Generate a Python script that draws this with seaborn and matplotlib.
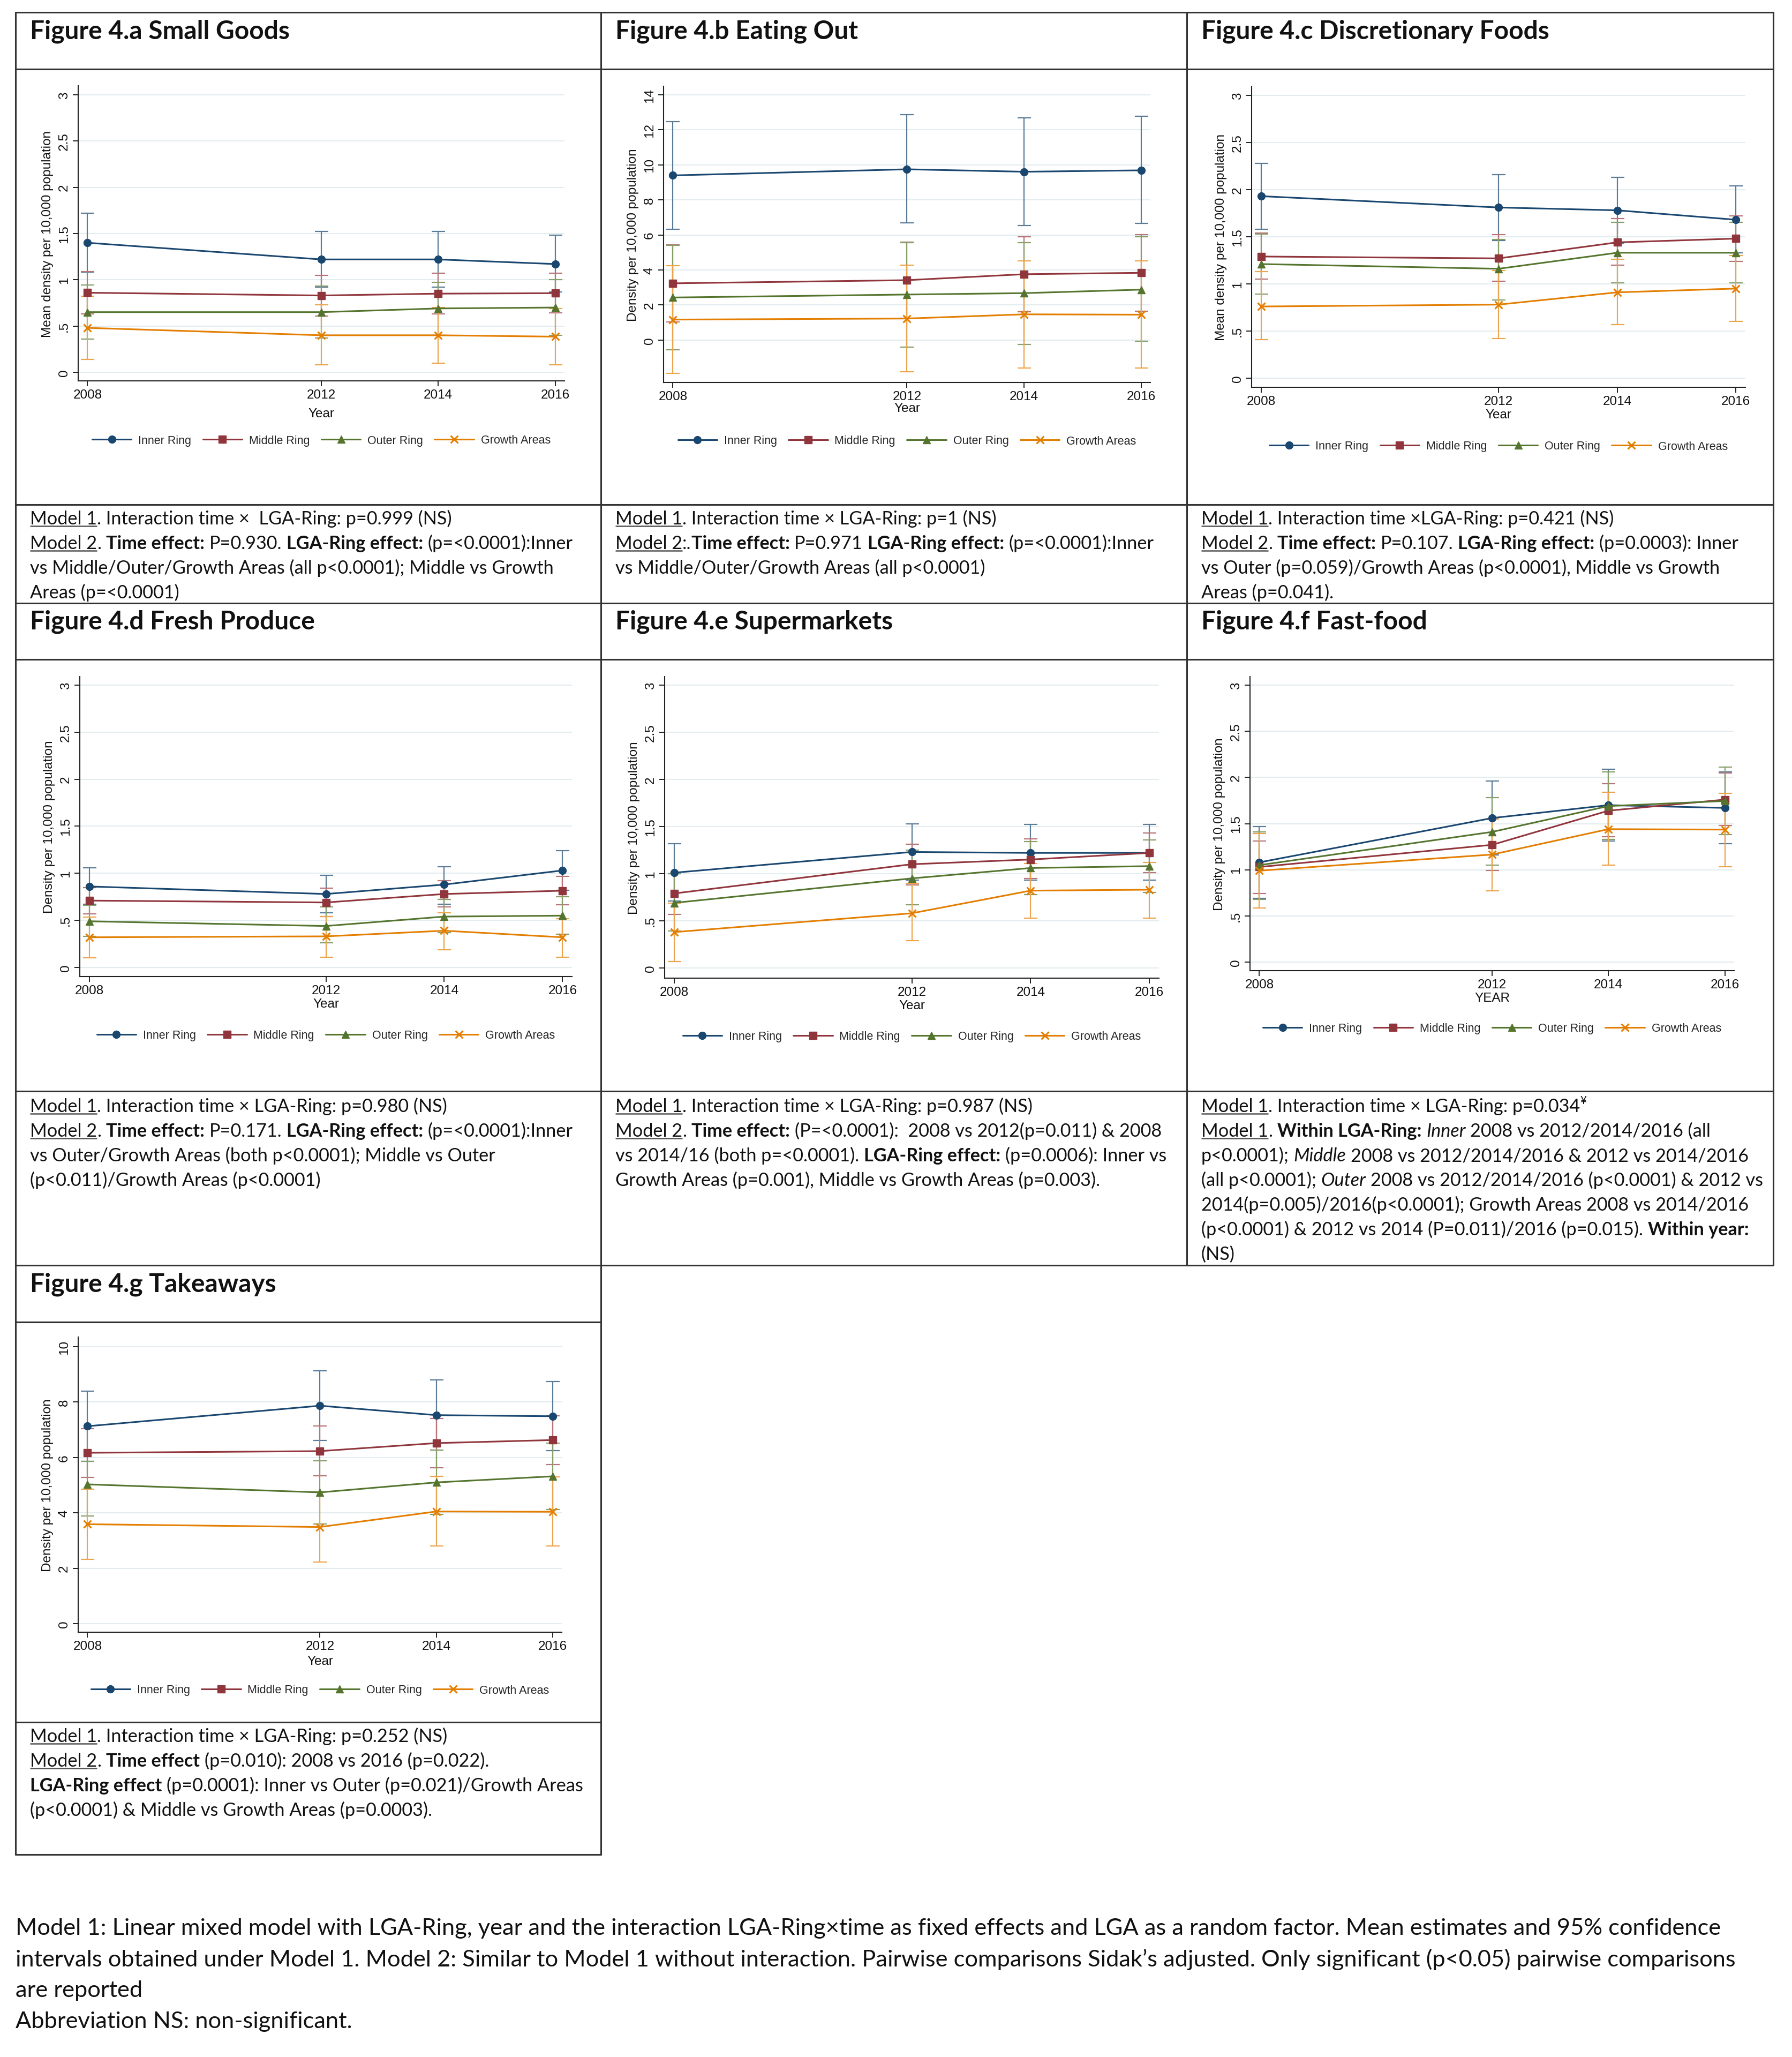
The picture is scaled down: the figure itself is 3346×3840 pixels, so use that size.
import numpy as np
import pandas as pd
import seaborn as sns
import matplotlib
matplotlib.use("Agg")
from matplotlib import pyplot as plt

years = [2008, 2012, 2014, 2016]
rings = ["Inner Ring", "Middle Ring", "Outer Ring", "Growth Areas"]

# one row per ring: Inner, Middle, Outer, Growth Areas
small_goods_mean = [[1.40, 1.22, 1.22, 1.17], [0.86, 0.83, 0.85, 0.855], [0.65, 0.65, 0.69, 0.70], [0.48, 0.40, 0.40, 0.385]]
small_goods_lo = [[1.08, 0.92, 0.92, 0.87], [0.63, 0.61, 0.63, 0.64], [0.36, 0.37, 0.40, 0.40], [0.14, 0.08, 0.10, 0.08]]
small_goods_hi = [[1.72, 1.52, 1.52, 1.48], [1.09, 1.05, 1.07, 1.07], [0.945, 0.93, 0.975, 1.00], [0.82, 0.73, 0.70, 0.69]]

eating_out_mean = [[9.40, 9.75, 9.61, 9.69], [3.24, 3.42, 3.76, 3.84], [2.43, 2.60, 2.68, 2.88], [1.17, 1.23, 1.47, 1.45]]
eating_out_lo = [[6.34, 6.70, 6.55, 6.65], [1.03, 1.25, 1.61, 1.66], [-0.56, -0.40, -0.26, -0.06], [-1.89, -1.82, -1.58, -1.60]]
eating_out_hi = [[12.47, 12.87, 12.69, 12.77], [5.45, 5.59, 5.91, 6.03], [5.40, 5.56, 5.56, 5.91], [4.24, 4.28, 4.52, 4.51]]

discretionary_mean = [[1.93, 1.81, 1.78, 1.68], [1.29, 1.27, 1.44, 1.48], [1.21, 1.16, 1.33, 1.33], [0.76, 0.78, 0.91, 0.95]]
discretionary_lo = [[1.58, 1.46, 1.43, 1.33], [1.05, 1.03, 1.20, 1.24], [0.89, 0.83, 1.01, 1.01], [0.41, 0.42, 0.57, 0.60]]
discretionary_hi = [[2.28, 2.16, 2.13, 2.04], [1.54, 1.52, 1.69, 1.72], [1.53, 1.47, 1.65, 1.65], [1.13, 1.14, 1.26, 1.30]]

fresh_mean = [[0.86, 0.78, 0.88, 1.03], [0.71, 0.69, 0.78, 0.815], [0.49, 0.44, 0.54, 0.55], [0.32, 0.33, 0.39, 0.32]]
fresh_lo = [[0.67, 0.58, 0.67, 0.82], [0.57, 0.54, 0.645, 0.665], [0.33, 0.26, 0.37, 0.35], [0.10, 0.11, 0.19, 0.11]]
fresh_hi = [[1.06, 0.98, 1.07, 1.24], [0.85, 0.84, 0.92, 0.97], [0.66, 0.64, 0.72, 0.75], [0.535, 0.54, 0.58, 0.52]]

supermarket_mean = [[1.01, 1.23, 1.22, 1.22], [0.79, 1.10, 1.15, 1.22], [0.69, 0.95, 1.06, 1.08], [0.38, 0.58, 0.82, 0.83]]
supermarket_lo = [[0.71, 0.93, 0.93, 0.93], [0.57, 0.88, 0.95, 1.01], [0.39, 0.67, 0.78, 0.80], [0.07, 0.29, 0.53, 0.53]]
supermarket_hi = [[1.32, 1.53, 1.52, 1.52], [1.00, 1.31, 1.37, 1.43], [1.00, 1.25, 1.34, 1.36], [0.69, 0.90, 1.11, 1.12]]

fastfood_mean = [[1.08, 1.56, 1.70, 1.67], [1.03, 1.27, 1.64, 1.76], [1.05, 1.41, 1.69, 1.745], [0.99, 1.165, 1.44, 1.435]]
fastfood_lo = [[0.69, 1.16, 1.31, 1.28], [0.74, 0.995, 1.36, 1.48], [0.68, 1.05, 1.33, 1.38], [0.585, 0.77, 1.05, 1.03]]
fastfood_hi = [[1.47, 1.96, 2.09, 2.06], [1.31, 1.55, 1.93, 2.05], [1.41, 1.78, 2.06, 2.11], [1.39, 1.55, 1.84, 1.83]]

takeaway_mean = [[7.13, 7.87, 7.53, 7.49], [6.17, 6.23, 6.52, 6.63], [5.03, 4.74, 5.10, 5.32], [3.59, 3.49, 4.05, 4.04]]
takeaway_lo = [[5.87, 6.62, 6.26, 6.25], [5.29, 5.34, 5.63, 5.75], [3.88, 3.60, 3.94, 4.13], [2.33, 2.23, 2.81, 2.81]]
takeaway_hi = [[8.39, 9.13, 8.80, 8.75], [7.05, 7.14, 7.41, 7.51], [5.87, 5.89, 6.27, 6.51], [4.86, 4.76, 5.32, 5.30]]

ticks_3 = [0, 0.5, 1, 1.5, 2, 2.5, 3]
ticks_3_labels = ["0", ".5", "1", "1.5", "2", "2.5", "3"]
ticks_14 = [0, 2, 4, 6, 8, 10, 12, 14]
ticks_10 = [0, 2, 4, 6, 8, 10]

titles = ["Figure 4.a Small Goods", "Figure 4.b Eating Out", "Figure 4.c Discretionary Foods",
          "Figure 4.d Fresh Produce", "Figure 4.e Supermarkets", "Figure 4.f Fast-food",
          "Figure 4.g Takeaways"]

# text runs: (text, style)  u=underline b=bold i=italic ^=superscript
notes_a = [
    [("Model 1", "u"), (". Interaction time \u00d7  LGA-Ring: p=0.999 (NS)", "")],
    [("Model 2", "u"), (". ", ""), ("Time effect:", "b"), (" P=0.930. ", ""), ("LGA-Ring effect:", "b"), (" (p=<0.0001):Inner", "")],
    [("vs Middle/Outer/Growth Areas (all p<0.0001); Middle vs Growth", "")],
    [("Areas (p=<0.0001)", "")],
]
notes_b = [
    [("Model 1", "u"), (". Interaction time \u00d7 LGA-Ring: p=1 (NS)", "")],
    [("Model 2", "u"), (":.", ""), ("Time effect:", "b"), (" P=0.971 ", ""), ("LGA-Ring effect:", "b"), (" (p=<0.0001):Inner", "")],
    [("vs Middle/Outer/Growth Areas (all p<0.0001)", "")],
]
notes_c = [
    [("Model 1", "u"), (". Interaction time \u00d7LGA-Ring: p=0.421 (NS)", "")],
    [("Model 2", "u"), (". ", ""), ("Time effect:", "b"), (" P=0.107. ", ""), ("LGA-Ring effect:", "b"), (" (p=0.0003): Inner", "")],
    [("vs Outer (p=0.059)/Growth Areas (p<0.0001), Middle vs Growth", "")],
    [("Areas (p=0.041).", "")],
]
notes_d = [
    [("Model 1", "u"), (". Interaction time \u00d7 LGA-Ring: p=0.980 (NS)", "")],
    [("Model 2", "u"), (". ", ""), ("Time effect:", "b"), (" P=0.171. ", ""), ("LGA-Ring effect:", "b"), (" (p=<0.0001):Inner", "")],
    [("vs Outer/Growth Areas (both p<0.0001); Middle vs Outer", "")],
    [("(p<0.011)/Growth Areas (p<0.0001)", "")],
]
notes_e = [
    [("Model 1", "u"), (". Interaction time \u00d7 LGA-Ring: p=0.987 (NS)", "")],
    [("Model 2", "u"), (". ", ""), ("Time effect:", "b"), (" (P=<0.0001):  2008 vs 2012(p=0.011) & 2008", "")],
    [("vs 2014/16 (both p=<0.0001). ", ""), ("LGA-Ring effect:", "b"), (" (p=0.0006): Inner vs", "")],
    [("Growth Areas (p=0.001), Middle vs Growth Areas (p=0.003).", "")],
]
notes_f = [
    [("Model 1", "u"), (". Interaction time \u00d7 LGA-Ring: p=0.034", ""), ("\u00a5", "^")],
    [("Model 1", "u"), (". ", ""), ("Within LGA-Ring:", "b"), (" ", ""), ("Inner", "i"), (" 2008 vs 2012/2014/2016 (all", "")],
    [("p<0.0001); ", ""), ("Middle", "i"), (" 2008 vs 2012/2014/2016 & 2012 vs 2014/2016", "")],
    [("(all p<0.0001); ", ""), ("Outer", "i"), (" 2008 vs 2012/2014/2016 (p<0.0001) & 2012 vs", "")],
    [("2014(p=0.005)/2016(p<0.0001); Growth Areas 2008 vs 2014/2016", "")],
    [("(p<0.0001) & 2012 vs 2014 (P=0.011)/2016 (p=0.015). ", ""), ("Within year:", "b")],
    [("(NS)", "")],
]
notes_g = [
    [("Model 1", "u"), (". Interaction time \u00d7 LGA-Ring: p=0.252 (NS)", "")],
    [("Model 2", "u"), (". ", ""), ("Time effect", "b"), (" (p=0.010): 2008 vs 2016 (p=0.022).", "")],
    [("LGA-Ring effect", "b"), (" (p=0.0001): Inner vs Outer (p=0.021)/Growth Areas", "")],
    [("(p<0.0001) & Middle vs Growth Areas (p=0.0003).", "")],
]
footer = [
    "Model 1: Linear mixed model with LGA-Ring, year and the interaction LGA-Ring\u00d7time as fixed effects and LGA as a random factor. Mean estimates and 95% confidence",
    "intervals obtained under Model 1. Model 2: Similar to Model 1 without interaction. Pairwise comparisons Sidak\u2019s adjusted. Only significant (p<0.05) pairwise comparisons",
    "are reported",
    "Abbreviation NS: non-significant.",
]

ring_colors = ["#1a476f", "#90353b", "#55752f", "#e37e00"]
ring_light = ["#5b7c99", "#b87479", "#87a06a", "#eda54d"]
ring_markers = ["o", "s", "^", "x"]

sns.set_theme(style="white")
TEXT_FONT = ["Lato", "DejaVu Sans"]
CHART_FONT = ["Liberation Sans", "DejaVu Sans"]
plt.rcParams["font.family"] = CHART_FONT

W, H = 3346, 3841
fig = plt.figure(figsize=(W / 100, H / 100), dpi=100)
fig.patch.set_facecolor("white")
bg = fig.add_axes([0, 0, 1, 1])
bg.set_xlim(0, W)
bg.set_ylim(H, 0)
bg.axis("off")
renderer = fig.canvas.get_renderer()

TEXT_SIZE = 24.7
TITLE_SIZE = 34.5
FOOT_SIZE = 31.2
CHART_SIZE = 17.5


def text_w(s, kw):
    t = bg.text(0, 0, s, **kw)
    w = t.get_window_extent(renderer).width
    t.remove()
    return w


def write_runs(x, y, runs, size):
    for txt, st in runs:
        kw = dict(fontsize=size, family=TEXT_FONT, color="#111111",
                  fontweight="bold" if "b" in st else "normal",
                  fontstyle="italic" if "i" in st else "normal")
        yy = y
        if "^" in st:
            kw["fontsize"] = size * 0.6
            yy = y - size * 100 / 72 * 0.45
        sp = text_w("a a", kw) - text_w("aa", kw)
        core = txt.strip(" ")
        lead = len(txt) - len(txt.lstrip(" "))
        trail = len(txt) - len(txt.rstrip(" ")) if core else 0
        x += lead * sp
        if core:
            t = bg.text(x, yy, core, ha="left", va="baseline", **kw)
            w = t.get_window_extent(renderer).width
            if "u" in st:
                uy = y + size * 100 / 72 * 0.13
                bg.plot([x, x + w], [uy, uy], color="#555555", lw=1.8, solid_capstyle="butt")
            x += w
        x += trail * sp


def write_block(x, y0, lines, size, step):
    for i, runs in enumerate(lines):
        write_runs(x, y0 + i * step + size * 100 / 72 * 0.35, runs, size)


def draw_panel(rect, mean, lo, hi, ylab, xlab, yticks, ylabels, ylim, leg_y, xpad):
    l, t, r, b = rect
    ax = fig.add_axes([l / W, 1 - b / H, (r - l) / W, (b - t) / H])
    for k, ring in enumerate(rings):
        df = pd.DataFrame({"year": years * 3,
                           "value": list(lo[k]) + list(mean[k]) + list(hi[k])})
        sns.lineplot(data=df, x="year", y="value", estimator="median",
                     errorbar=lambda v: (v.min(), v.max()), err_style="bars",
                     color=ring_colors[k], marker=ring_markers[k], markersize=10,
                     markeredgecolor=ring_colors[k],
                     markeredgewidth=2.2 if ring_markers[k] == "x" else 1,
                     linewidth=2.2, label=ring, ax=ax,
                     err_kws=dict(capsize=9, elinewidth=1.6, capthick=1.6,
                                  ecolor=ring_light[k], zorder=1.5))
    ax.set_xlim(2007.84, 2016.16)
    ax.set_ylim(*ylim)
    ax.set_xticks(years)
    ax.set_xticklabels([str(y) for y in years])
    ax.set_yticks(yticks)
    ax.set_yticklabels(ylabels, rotation=90, va="center")
    ax.yaxis.grid(True, color="#e3ecef", lw=1.5)
    ax.set_axisbelow(True)
    sns.despine(ax=ax)
    for s in ["left", "bottom"]:
        ax.spines[s].set_color("#222222")
        ax.spines[s].set_linewidth(1.5)
    ax.tick_params(length=7, width=1.4, color="#222222", labelsize=CHART_SIZE,
                   labelcolor="#111111", pad=4, left=True, bottom=True)
    ax.set_xlabel(xlab, fontsize=CHART_SIZE, labelpad=xpad, color="#111111")
    ax.set_ylabel(ylab, fontsize=CHART_SIZE, labelpad=6, color="#111111")
    handles, labels = ax.get_legend_handles_labels()
    ax.legend(handles, labels, loc="center", ncol=4, frameon=False,
              bbox_to_anchor=((l + r) / 2 / W, 1 - leg_y / H), bbox_transform=fig.transFigure,
              fontsize=15.5, handlelength=3.4, handletextpad=0.6, columnspacing=1.0,
              numpoints=1)
    return ax


mean_lab = "Mean density per 10,000 population"
dens_lab = "Density per 10,000 population"

draw_panel((146, 161, 1054, 712), small_goods_mean, small_goods_lo, small_goods_hi,
           mean_lab, "Year", ticks_3, ticks_3_labels, (-0.093, 3.098), 823, 9)
draw_panel((1239, 162, 2148, 715), eating_out_mean, eating_out_lo, eating_out_hi,
           dens_lab, "Year", ticks_14, [str(v) for v in ticks_14], (-2.42, 14.49), 824, 0)
draw_panel((2337, 163, 3259, 724), discretionary_mean, discretionary_lo, discretionary_hi,
           mean_lab, "Year", ticks_3, ticks_3_labels, (-0.097, 3.09), 834, 2)
draw_panel((149, 1264, 1068, 1824), fresh_mean, fresh_lo, fresh_hi,
           dens_lab, "Year", ticks_3, ticks_3_labels, (-0.097, 3.09), 1934, 2)
draw_panel((1241, 1264, 2164, 1827), supermarket_mean, supermarket_lo, supermarket_hi,
           dens_lab, "Year", ticks_3, ticks_3_labels, (-0.108, 3.09), 1936, 2)
draw_panel((2334, 1264, 3238, 1813), fastfood_mean, fastfood_lo, fastfood_hi,
           dens_lab, "YEAR", ticks_3, ticks_3_labels, (-0.093, 3.093), 1921, 2)
draw_panel((146, 2497, 1049, 3048), takeaway_mean, takeaway_lo, takeaway_hi,
           dens_lab, "Year", ticks_10, [str(v) for v in ticks_10], (-0.31, 10.35), 3156, 4)

# table borders
LC = "#333333"
LW = 2.2
x0, x1, x2, x3 = 29, 1122, 2216, 3311
for y in [24, 130, 943, 1127, 1232, 2038, 2363]:
    bg.plot([x0, x3], [y, y], color=LC, lw=LW)
for y in [2469, 3216, 3463]:
    bg.plot([x0, x1], [y, y], color=LC, lw=LW)
bg.plot([x0, x0], [24, 3463], color=LC, lw=LW)
bg.plot([x1, x1], [24, 3463], color=LC, lw=LW)
bg.plot([x2, x2], [24, 2363], color=LC, lw=LW)
bg.plot([x3, x3], [24, 2363], color=LC, lw=LW)

# titles
title_pos = [(56, 59), (1149, 59), (2243, 59), (56, 1161), (1149, 1161), (2243, 1161), (56, 2398)]
for (tx, ty), title in zip(title_pos, titles):
    bg.text(tx, ty, title, ha="left", va="center", fontsize=TITLE_SIZE,
            fontweight="bold", family=TEXT_FONT, color="#111111")

# notes
write_block(56, 967, notes_a, TEXT_SIZE, 46)
write_block(1149, 967, notes_b, TEXT_SIZE, 46)
write_block(2243, 967, notes_c, TEXT_SIZE, 46)
write_block(56, 2064, notes_d, TEXT_SIZE, 46)
write_block(1149, 2064, notes_e, TEXT_SIZE, 46)
write_block(2243, 2064, notes_f, TEXT_SIZE, 46)
write_block(56, 3240, notes_g, TEXT_SIZE, 46)

for i, line in enumerate(footer):
    bg.text(29, 3600 + i * 58, line, ha="left", va="center", fontsize=FOOT_SIZE,
            family=TEXT_FONT, color="#111111")

fig.savefig("out.png", dpi=100, facecolor="white")
